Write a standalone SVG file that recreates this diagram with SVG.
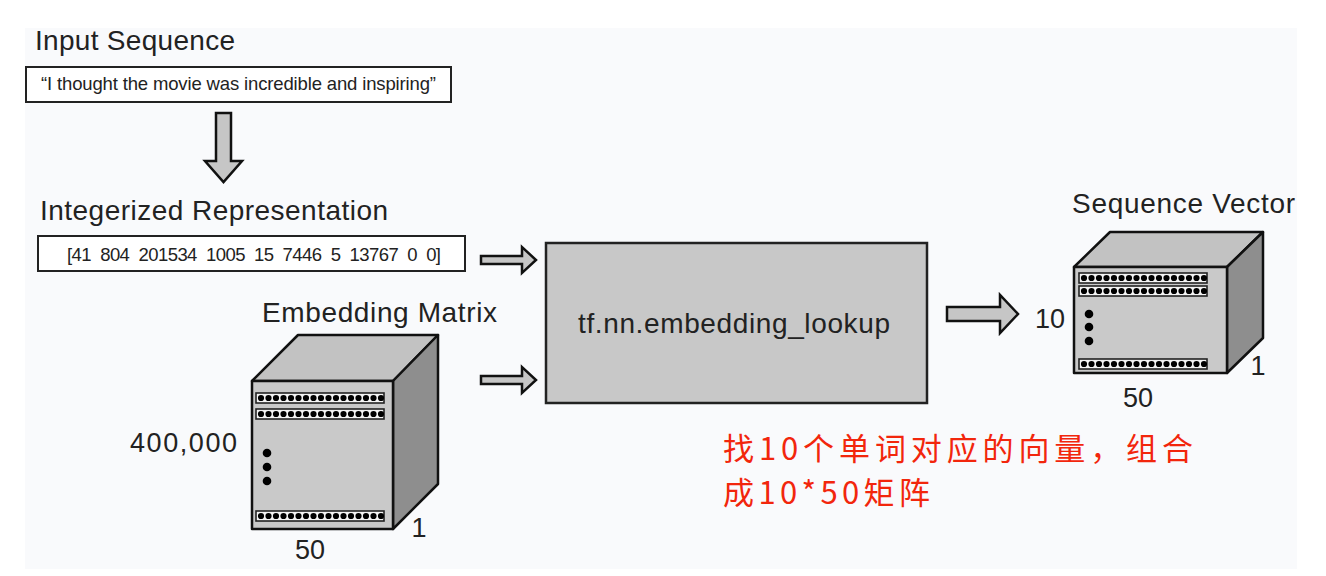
<svg xmlns="http://www.w3.org/2000/svg" width="1326" height="576" viewBox="0 0 1326 576">
<style>
.t{font-family:"Liberation Sans",Arial,sans-serif;fill:#222}
.lbl{font-size:28px}
.num{font-size:27px}
.box{fill:#fff;stroke:#222;stroke-width:2}
.arr{fill:#c6c6c6;stroke:#111;stroke-width:2.5;stroke-linejoin:miter}
.front{fill:#c9c9c9;stroke:#111;stroke-width:2.5;stroke-linejoin:round}
.top{fill:#c2c2c2;stroke:#111;stroke-width:2.5;stroke-linejoin:round}
.side{fill:#8e8e8e;stroke:#111;stroke-width:2.5;stroke-linejoin:round}
.strip{fill:#f4f4f4;stroke:#222;stroke-width:1.6}
.dots{stroke:#000;stroke-width:6.2;stroke-linecap:round;stroke-dasharray:0 7.5}
.red{font-family:"Noto Sans CJK SC","Liberation Sans",sans-serif;fill:#f2260c;font-size:31px}
</style>
<rect x="0" y="0" width="1326" height="576" fill="#ffffff"/>
<rect x="25" y="28" width="1272" height="541" fill="#f9fafc"/>

<g id="input-sequence">
<text class="t lbl" x="35" y="50" textLength="200">Input Sequence</text>
<rect class="box" x="26" y="67" width="425" height="35"/>
<text class="t" x="41" y="90" font-size="18.5" textLength="395">“I thought the movie was incredible and inspiring”</text>
</g>

<g id="integerized">
<text class="t lbl" x="40" y="220" textLength="348">Integerized Representation</text>
<rect class="box" x="38" y="236" width="427" height="35"/>
<text class="t" x="67" y="261" font-size="18.5" textLength="374" xml:space="preserve">[41  804  201534  1005  15  7446  5  13767  0  0]</text>
</g>

<g id="embedding-matrix">
<text class="t lbl" x="262" y="322" textLength="235">Embedding Matrix</text>
<polygon class="top" points="252,381 298,335 438,335 393,381"/>
<polygon class="side" points="393,381 438,335 438,484 393,529"/>
<rect class="front" x="252" y="381" width="141" height="148"/>
<rect class="strip" x="256" y="393" width="128" height="10"/>
<line class="dots" x1="261" y1="398" x2="382" y2="398"/>
<rect class="strip" x="256" y="409" width="128" height="10"/>
<line class="dots" x1="261" y1="414" x2="382" y2="414"/>
<rect class="strip" x="256" y="511" width="128" height="10"/>
<line class="dots" x1="261" y1="516" x2="382" y2="516"/>
<circle cx="267" cy="453" r="4.3"/>
<circle cx="267" cy="467" r="4.3"/>
<circle cx="267" cy="481" r="4.3"/>
<text class="t num" x="130" y="452" textLength="107">400,000</text>
<text class="t num" x="310" y="559" text-anchor="middle">50</text>
<text class="t num" x="419" y="537" text-anchor="middle">1</text>
</g>

<g id="lookup">
<rect x="546" y="243" width="381" height="160" fill="#c8c8c8" stroke="#222" stroke-width="2.5"/>
<text class="t lbl" x="578" y="333" textLength="312">tf.nn.embedding_lookup</text>
</g>

<g id="sequence-vector">
<text class="t lbl" x="1072" y="213" textLength="223">Sequence Vector</text>
<polygon class="top" points="1074,267 1110,232 1263,232 1227,267"/>
<polygon class="side" points="1227,267 1263,232 1263,338 1227,373"/>
<rect class="front" x="1074" y="267" width="153" height="106"/>
<rect class="strip" x="1079" y="273" width="128" height="10"/>
<line class="dots" x1="1084" y1="278" x2="1205" y2="278"/>
<rect class="strip" x="1079" y="286" width="128" height="10"/>
<line class="dots" x1="1084" y1="291" x2="1205" y2="291"/>
<rect class="strip" x="1079" y="359" width="128" height="10"/>
<line class="dots" x1="1084" y1="364" x2="1205" y2="364"/>
<circle cx="1089" cy="314" r="4.3"/>
<circle cx="1089" cy="327" r="4.3"/>
<circle cx="1089" cy="341" r="4.3"/>
<text class="t num" x="1035" y="328">10</text>
<text class="t num" x="1138" y="407" text-anchor="middle">50</text>
<text class="t num" x="1258" y="375" text-anchor="middle">1</text>
</g>

<g id="connectors">
<polygon class="arr" points="216,113 231,113 231,161 242,161 223.5,182 205,161 216,161"/>
<polygon class="arr" points="481,256 522,256 522,247 536,260 522,273 522,264 481,264"/>
<polygon class="arr" points="481,376 522,376 522,367 536,380 522,393 522,384 481,384"/>
<polygon class="arr" points="947,307 1000,307 1000,295 1018,314 1000,333 1000,321 947,321"/>
</g>

<g id="note">
<text class="red" x="723" y="460" textLength="470">找10个单词对应的向量，组合</text>
<text class="red" x="723" y="504" textLength="207">成10*50矩阵</text>
</g>
</svg>
